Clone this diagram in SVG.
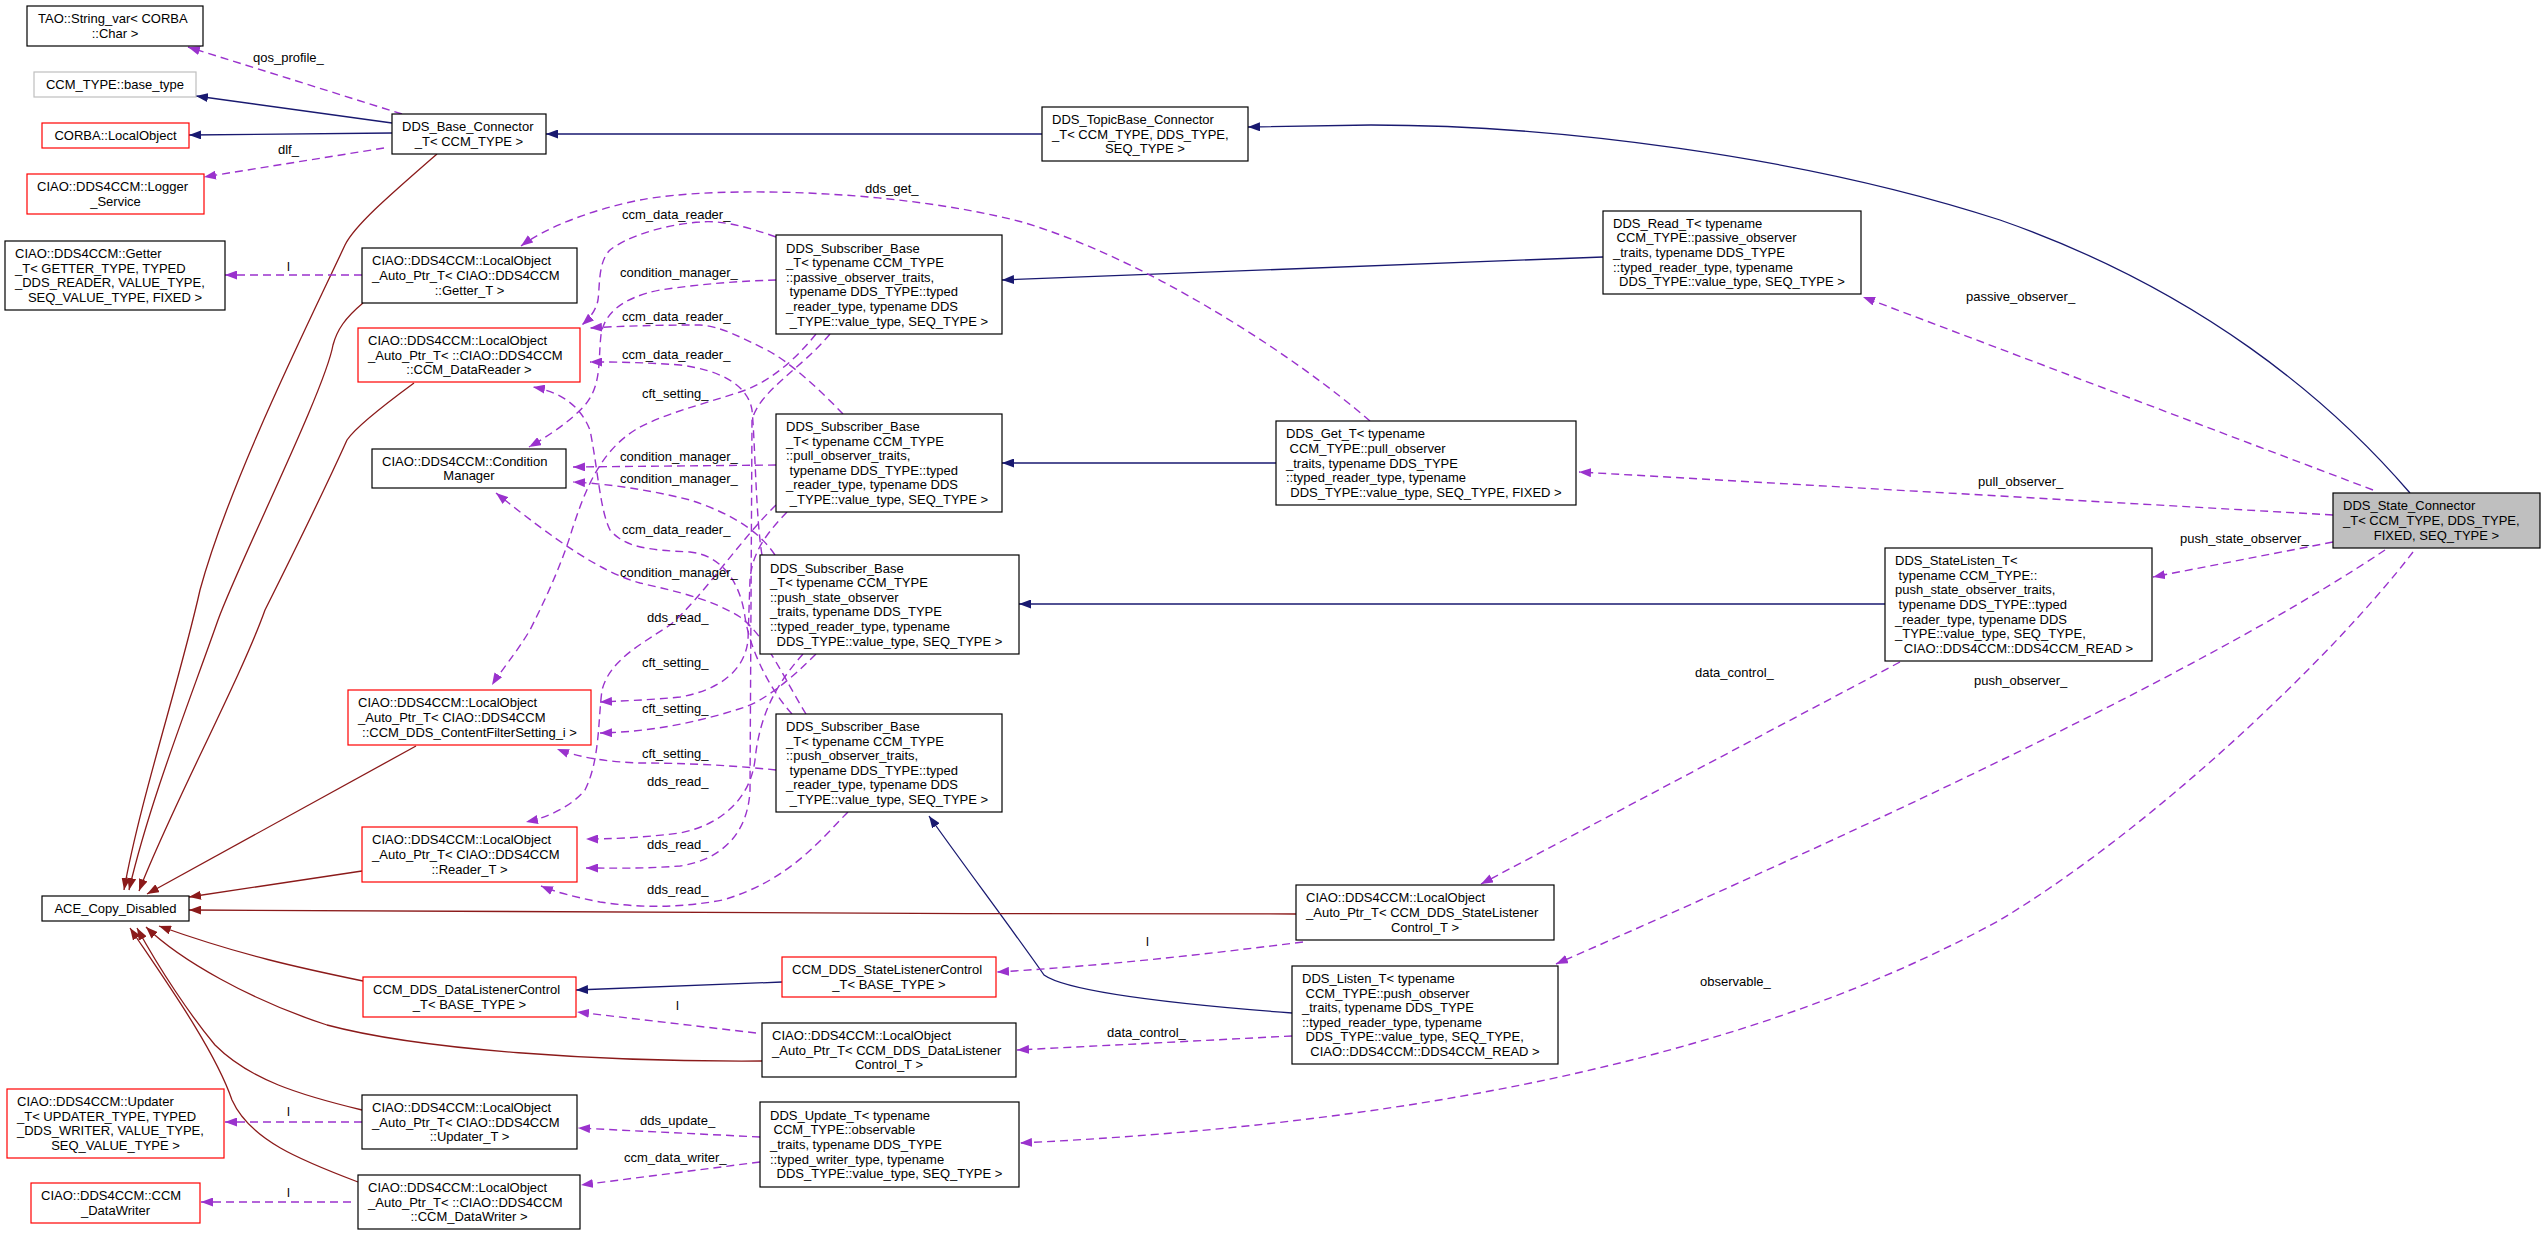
<svg xmlns="http://www.w3.org/2000/svg" width="2544" height="1235" viewBox="0 0 2544 1235">
<style>
text{font-family:"Liberation Sans",Arial,sans-serif;font-size:13px;fill:#000}
.m{text-anchor:middle}
.nd rect{fill:#fff;stroke:#000;stroke-width:1.2}
.nd rect.r{stroke:#ff0000}
.nd rect.g{stroke:#bfbfbf}
.nd rect.f{fill:#bfbfbf}
.nav{fill:none;stroke:#191970;stroke-width:1.3;marker-end:url(#an)}
.red{fill:none;stroke:#8b1a1a;stroke-width:1.3;marker-end:url(#ar)}
.use{fill:none;stroke:#9a32cd;stroke-width:1.4;stroke-dasharray:8,5;marker-end:url(#au)}
</style>
<defs>
<marker id="an" viewBox="0 0 12 9" refX="12" refY="4.5" markerWidth="12" markerHeight="9" markerUnits="userSpaceOnUse" orient="auto"><path d="M0,0L12,4.5L0,9z" fill="#191970"/></marker>
<marker id="ar" viewBox="0 0 12 9" refX="12" refY="4.5" markerWidth="12" markerHeight="9" markerUnits="userSpaceOnUse" orient="auto"><path d="M0,0L12,4.5L0,9z" fill="#8b1a1a"/></marker>
<marker id="au" viewBox="0 0 12 9" refX="12" refY="4.5" markerWidth="12" markerHeight="9" markerUnits="userSpaceOnUse" orient="auto"><path d="M0,0L12,4.5L0,9z" fill="#9a32cd"/></marker>
</defs>
<rect width="2544" height="1235" fill="#fff"/>
<g id="edges">
<path class="nav" d="M1042,134L546,134"/>
<path class="nav" d="M392,123L196,96"/>
<path class="nav" d="M392,133L189,135"/>
<path class="nav" d="M2410,493C2330,400 2200,290 2000,220C1800,155 1550,125 1371,125L1248,127"/>
<path class="nav" d="M1603,257L1002,280"/>
<path class="nav" d="M1276,463L1002,463"/>
<path class="nav" d="M1885,604L1019,604"/>
<path class="nav" d="M1292,1013C1160,1003 1065,990 1044,975C1020,940 960,860 929,816"/>
<path class="nav" d="M782,982L576,990"/>
<path class="red" d="M437,154C390,195 355,225 345,245C310,320 230,480 200,590C180,680 140,800 124,890"/>
<path class="red" d="M363,303C345,318 337,330 333,345C325,390 240,560 218,620C190,700 150,800 129,890"/>
<path class="red" d="M414,383C380,408 355,428 347,440C320,500 280,580 265,610C240,680 170,810 139,891"/>
<path class="red" d="M416,746L147,894"/>
<path class="red" d="M362,871L189,897"/>
<path class="red" d="M1296,914C900,914 400,912 189,910"/>
<path class="red" d="M363,981C300,968 240,955 159,926"/>
<path class="red" d="M762,1061C600,1062 420,1050 327,1025C250,1000 180,960 146,927"/>
<path class="red" d="M362,1110C300,1095 250,1080 215,1045C190,1015 160,970 137,928"/>
<path class="red" d="M358,1182C300,1160 250,1140 232,1100C215,1050 165,980 130,928"/>
<path class="use" d="M402,114L188,47"/>
<path class="use" d="M384,148L204,177"/>
<path class="use" d="M362,275L225,275"/>
<path class="use" d="M1370,421C1300,360 1150,260 1022,222C900,190 720,185 640,200C590,210 545,228 521,246"/>
<path class="use" d="M776,237C745,226 720,220 700,222C660,225 625,238 610,250C598,262 600,285 598,300C596,310 590,318 582,325"/>
<path class="use" d="M776,280C740,281 700,284 660,290C620,298 604,315 601,335C598,360 602,385 585,405C570,422 545,438 529,447"/>
<path class="use" d="M816,334C795,360 770,382 740,392C700,405 660,415 635,430C600,452 585,490 572,530C560,570 540,610 530,630C515,655 500,672 492,685"/>
<path class="use" d="M830,334C800,370 760,390 752,420L750,790C748,835 720,860 680,866C640,869 610,868 586,868"/>
<path class="use" d="M843,414C820,390 790,362 767,350C740,337 720,326 700,325C660,325 620,326 590,328"/>
<path class="use" d="M776,465L573,467"/>
<path class="use" d="M787,512C770,530 752,550 750,580L748,640C745,670 720,690 680,697C650,700 620,701 600,702"/>
<path class="use" d="M776,505C740,540 700,600 670,625C640,645 610,660 602,690C598,720 600,760 585,790C570,808 545,818 526,822"/>
<path class="use" d="M762,555C756,520 755,440 752,410C748,385 720,370 680,365C640,362 610,362 590,362"/>
<path class="use" d="M775,555C755,525 720,510 690,500C650,490 610,484 573,482"/>
<path class="use" d="M816,654C790,680 765,700 745,707C700,722 650,732 600,733"/>
<path class="use" d="M803,654C780,680 760,710 755,760C750,800 720,825 680,833C640,838 610,839 586,839"/>
<path class="use" d="M792,714C770,690 750,650 745,617C740,580 720,555 690,552C650,550 625,548 610,530C600,510 598,470 590,430C580,405 560,392 533,387"/>
<path class="use" d="M806,714C785,680 765,635 740,617C710,598 670,590 640,583C600,572 555,540 496,493"/>
<path class="use" d="M776,770C730,765 680,763 640,763C610,762 580,758 557,749"/>
<path class="use" d="M848,812C820,840 790,880 723,900C680,908 640,908 600,902C575,897 555,892 541,886"/>
<path class="use" d="M2373,490L1863,297"/>
<path class="use" d="M2333,515L1579,472"/>
<path class="use" d="M2333,542L2153,577"/>
<path class="use" d="M2385,550C2250,640 2000,770 1556,964"/>
<path class="use" d="M2413,552C2330,660 2150,830 2000,920C1800,1030 1500,1120 1020,1143"/>
<path class="use" d="M1900,662L1481,884"/>
<path class="use" d="M1303,942C1200,955 1100,966 997,972"/>
<path class="use" d="M1292,1036L1017,1050"/>
<path class="use" d="M756,1033L577,1012"/>
<path class="use" d="M362,1122L225,1122"/>
<path class="use" d="M351,1202L201,1202"/>
<path class="use" d="M760,1137L578,1128"/>
<path class="use" d="M760,1162L581,1185"/>
<text x="253" y="62">qos_profile_</text>
<text x="278" y="154">dlf_</text>
<text x="287" y="271">l</text>
<text x="865" y="193">dds_get_</text>
<text x="622" y="219">ccm_data_reader_</text>
<text x="622" y="321">ccm_data_reader_</text>
<text x="622" y="359">ccm_data_reader_</text>
<text x="622" y="534">ccm_data_reader_</text>
<text x="620" y="277">condition_manager_</text>
<text x="620" y="461">condition_manager_</text>
<text x="620" y="483">condition_manager_</text>
<text x="620" y="577">condition_manager_</text>
<text x="642" y="398">cft_setting_</text>
<text x="642" y="667">cft_setting_</text>
<text x="642" y="713">cft_setting_</text>
<text x="642" y="758">cft_setting_</text>
<text x="647" y="622">dds_read_</text>
<text x="647" y="786">dds_read_</text>
<text x="647" y="849">dds_read_</text>
<text x="647" y="894">dds_read_</text>
<text x="1966" y="301">passive_observer_</text>
<text x="1978" y="486">pull_observer_</text>
<text x="2180" y="543">push_state_observer_</text>
<text x="1974" y="685">push_observer_</text>
<text x="1695" y="677">data_control_</text>
<text x="1107" y="1037">data_control_</text>
<text x="1700" y="986">observable_</text>
<text x="1146" y="946">l</text>
<text x="676" y="1010">l</text>
<text x="287" y="1116">l</text>
<text x="287" y="1197">l</text>
<text x="640" y="1125">dds_update_</text>
<text x="624" y="1162">ccm_data_writer_</text>
</g>
<g id="n_tao" class="nd"><rect x="27" y="6" width="176" height="40"/><text x="38" y="23.2">TAO::String_var&lt; CORBA</text><text class="m" x="115" y="37.8">::Char &gt;</text></g>
<g id="n_base_type" class="nd"><rect class="g" x="34" y="72" width="162" height="25"/><text class="m" x="115" y="89">CCM_TYPE::base_type</text></g>
<g id="n_corba" class="nd"><rect class="r" x="42" y="123" width="147" height="25"/><text class="m" x="115.5" y="140">CORBA::LocalObject</text></g>
<g id="n_logger" class="nd"><rect class="r" x="27" y="174" width="177" height="40"/><text x="37" y="191.2">CIAO::DDS4CCM::Logger</text><text class="m" x="115.5" y="205.8">_Service</text></g>
<g id="n_getter" class="nd"><rect x="5" y="241" width="220" height="69"/><text x="15" y="258.1">CIAO::DDS4CCM::Getter</text><text x="15" y="272.7">_T&lt; GETTER_TYPE, TYPED</text><text x="15" y="287.3">_DDS_READER, VALUE_TYPE,</text><text class="m" x="115" y="301.9">SEQ_VALUE_TYPE, FIXED &gt;</text></g>
<g id="n_base_conn" class="nd"><rect x="392" y="114" width="154" height="40"/><text x="402" y="131.2">DDS_Base_Connector</text><text class="m" x="469" y="145.8">_T&lt; CCM_TYPE &gt;</text></g>
<g id="n_lo_getter" class="nd"><rect x="362" y="248" width="215" height="55"/><text x="372" y="265.4">CIAO::DDS4CCM::LocalObject</text><text x="372" y="280">_Auto_Ptr_T&lt; CIAO::DDS4CCM</text><text class="m" x="469.5" y="294.6">::Getter_T &gt;</text></g>
<g id="n_lo_datareader" class="nd"><rect class="r" x="358" y="328" width="222" height="54"/><text x="368" y="344.9">CIAO::DDS4CCM::LocalObject</text><text x="368" y="359.5">_Auto_Ptr_T&lt; ::CIAO::DDS4CCM</text><text class="m" x="469" y="374.1">::CCM_DataReader &gt;</text></g>
<g id="n_condmgr" class="nd"><rect x="372" y="449" width="194" height="39"/><text x="382" y="465.7">CIAO::DDS4CCM::Condition</text><text class="m" x="469" y="480.3">Manager</text></g>
<g id="n_lo_cft" class="nd"><rect class="r" x="348" y="690" width="243" height="55"/><text x="358" y="707.4">CIAO::DDS4CCM::LocalObject</text><text x="358" y="722">_Auto_Ptr_T&lt; CIAO::DDS4CCM</text><text class="m" x="469.5" y="736.6">::CCM_DDS_ContentFilterSetting_i &gt;</text></g>
<g id="n_lo_reader" class="nd"><rect class="r" x="362" y="827" width="215" height="55"/><text x="372" y="844.4">CIAO::DDS4CCM::LocalObject</text><text x="372" y="859">_Auto_Ptr_T&lt; CIAO::DDS4CCM</text><text class="m" x="469.5" y="873.6">::Reader_T &gt;</text></g>
<g id="n_ace" class="nd"><rect x="42" y="896" width="147" height="25"/><text class="m" x="115.5" y="913">ACE_Copy_Disabled</text></g>
<g id="n_dlc" class="nd"><rect class="r" x="363" y="977" width="213" height="40"/><text x="373" y="994.2">CCM_DDS_DataListenerControl</text><text class="m" x="469.5" y="1008.8">_T&lt; BASE_TYPE &gt;</text></g>
<g id="n_updater" class="nd"><rect class="r" x="7" y="1089" width="217" height="69"/><text x="17" y="1106.1">CIAO::DDS4CCM::Updater</text><text x="17" y="1120.7">_T&lt; UPDATER_TYPE, TYPED</text><text x="17" y="1135.3">_DDS_WRITER, VALUE_TYPE,</text><text class="m" x="115.5" y="1149.9">SEQ_VALUE_TYPE &gt;</text></g>
<g id="n_lo_updater" class="nd"><rect x="362" y="1095" width="215" height="54"/><text x="372" y="1111.9">CIAO::DDS4CCM::LocalObject</text><text x="372" y="1126.5">_Auto_Ptr_T&lt; CIAO::DDS4CCM</text><text class="m" x="469.5" y="1141.1">::Updater_T &gt;</text></g>
<g id="n_datawriter" class="nd"><rect class="r" x="31" y="1183" width="169" height="40"/><text x="41" y="1200.2">CIAO::DDS4CCM::CCM</text><text class="m" x="115.5" y="1214.8">_DataWriter</text></g>
<g id="n_lo_datawriter" class="nd"><rect x="358" y="1175" width="222" height="54"/><text x="368" y="1191.9">CIAO::DDS4CCM::LocalObject</text><text x="368" y="1206.5">_Auto_Ptr_T&lt; ::CIAO::DDS4CCM</text><text class="m" x="469" y="1221.1">::CCM_DataWriter &gt;</text></g>
<g id="n_topicbase" class="nd"><rect x="1042" y="107" width="206" height="54"/><text x="1052" y="123.9">DDS_TopicBase_Connector</text><text x="1052" y="138.5">_T&lt; CCM_TYPE, DDS_TYPE,</text><text class="m" x="1145" y="153.1">SEQ_TYPE &gt;</text></g>
<g id="n_sub_passive" class="nd"><rect x="776" y="235" width="226" height="99"/><text x="786" y="252.5">DDS_Subscriber_Base</text><text x="786" y="267.1">_T&lt; typename CCM_TYPE</text><text x="786" y="281.7">::passive_observer_traits,</text><text x="789.6" y="296.3">typename DDS_TYPE::typed</text><text x="786" y="310.9">_reader_type, typename DDS</text><text class="m" x="889" y="325.5">_TYPE::value_type, SEQ_TYPE &gt;</text></g>
<g id="n_sub_pull" class="nd"><rect x="776" y="414" width="226" height="98"/><text x="786" y="431">DDS_Subscriber_Base</text><text x="786" y="445.6">_T&lt; typename CCM_TYPE</text><text x="786" y="460.2">::pull_observer_traits,</text><text x="789.6" y="474.8">typename DDS_TYPE::typed</text><text x="786" y="489.4">_reader_type, typename DDS</text><text class="m" x="889" y="504">_TYPE::value_type, SEQ_TYPE &gt;</text></g>
<g id="n_sub_pushstate" class="nd"><rect x="760" y="555" width="259" height="99"/><text x="770" y="572.5">DDS_Subscriber_Base</text><text x="770" y="587.1">_T&lt; typename CCM_TYPE</text><text x="770" y="601.7">::push_state_observer</text><text x="770" y="616.3">_traits, typename DDS_TYPE</text><text x="770" y="630.9">::typed_reader_type, typename</text><text class="m" x="889.5" y="645.5">DDS_TYPE::value_type, SEQ_TYPE &gt;</text></g>
<g id="n_sub_push" class="nd"><rect x="776" y="714" width="226" height="98"/><text x="786" y="731">DDS_Subscriber_Base</text><text x="786" y="745.6">_T&lt; typename CCM_TYPE</text><text x="786" y="760.2">::push_observer_traits,</text><text x="789.6" y="774.8">typename DDS_TYPE::typed</text><text x="786" y="789.4">_reader_type, typename DDS</text><text class="m" x="889" y="804">_TYPE::value_type, SEQ_TYPE &gt;</text></g>
<g id="n_slc" class="nd"><rect class="r" x="782" y="957" width="214" height="40"/><text x="792" y="974.2">CCM_DDS_StateListenerControl</text><text class="m" x="889" y="988.8">_T&lt; BASE_TYPE &gt;</text></g>
<g id="n_lo_dlc" class="nd"><rect x="762" y="1023" width="254" height="54"/><text x="772" y="1039.9">CIAO::DDS4CCM::LocalObject</text><text x="772" y="1054.5">_Auto_Ptr_T&lt; CCM_DDS_DataListener</text><text class="m" x="889" y="1069.1">Control_T &gt;</text></g>
<g id="n_update" class="nd"><rect x="760" y="1102" width="259" height="85"/><text x="770" y="1119.8">DDS_Update_T&lt; typename</text><text x="773.6" y="1134.4">CCM_TYPE::observable</text><text x="770" y="1149">_traits, typename DDS_TYPE</text><text x="770" y="1163.6">::typed_writer_type, typename</text><text class="m" x="889.5" y="1178.2">DDS_TYPE::value_type, SEQ_TYPE &gt;</text></g>
<g id="n_read" class="nd"><rect x="1603" y="211" width="258" height="83"/><text x="1613" y="227.8">DDS_Read_T&lt; typename</text><text x="1616.6" y="242.4">CCM_TYPE::passive_observer</text><text x="1613" y="257">_traits, typename DDS_TYPE</text><text x="1613" y="271.6">::typed_reader_type, typename</text><text class="m" x="1732" y="286.2">DDS_TYPE::value_type, SEQ_TYPE &gt;</text></g>
<g id="n_get" class="nd"><rect x="1276" y="421" width="300" height="84"/><text x="1286" y="438.3">DDS_Get_T&lt; typename</text><text x="1289.6" y="452.9">CCM_TYPE::pull_observer</text><text x="1286" y="467.5">_traits, typename DDS_TYPE</text><text x="1286" y="482.1">::typed_reader_type, typename</text><text class="m" x="1426" y="496.7">DDS_TYPE::value_type, SEQ_TYPE, FIXED &gt;</text></g>
<g id="n_statelisten" class="nd"><rect x="1885" y="548" width="267" height="113"/><text x="1895" y="565.2">DDS_StateListen_T&lt;</text><text x="1898.6" y="579.8">typename CCM_TYPE::</text><text x="1895" y="594.4">push_state_observer_traits,</text><text x="1898.6" y="609">typename DDS_TYPE::typed</text><text x="1895" y="623.6">_reader_type, typename DDS</text><text x="1895" y="638.2">_TYPE::value_type, SEQ_TYPE,</text><text class="m" x="2018.5" y="652.8">CIAO::DDS4CCM::DDS4CCM_READ &gt;</text></g>
<g id="n_listen" class="nd"><rect x="1292" y="966" width="266" height="98"/><text x="1302" y="983">DDS_Listen_T&lt; typename</text><text x="1305.6" y="997.6">CCM_TYPE::push_observer</text><text x="1302" y="1012.2">_traits, typename DDS_TYPE</text><text x="1302" y="1026.8">::typed_reader_type, typename</text><text x="1305.6" y="1041.4">DDS_TYPE::value_type, SEQ_TYPE,</text><text class="m" x="1425" y="1056">CIAO::DDS4CCM::DDS4CCM_READ &gt;</text></g>
<g id="n_lo_slc" class="nd"><rect x="1296" y="885" width="258" height="55"/><text x="1306" y="902.4">CIAO::DDS4CCM::LocalObject</text><text x="1306" y="917">_Auto_Ptr_T&lt; CCM_DDS_StateListener</text><text class="m" x="1425" y="931.6">Control_T &gt;</text></g>
<g id="n_state" class="nd"><rect class="f" x="2333" y="493" width="207" height="55"/><text x="2343" y="510.4">DDS_State_Connector</text><text x="2343" y="525">_T&lt; CCM_TYPE, DDS_TYPE,</text><text class="m" x="2436.5" y="539.6">FIXED, SEQ_TYPE &gt;</text></g>
</svg>
